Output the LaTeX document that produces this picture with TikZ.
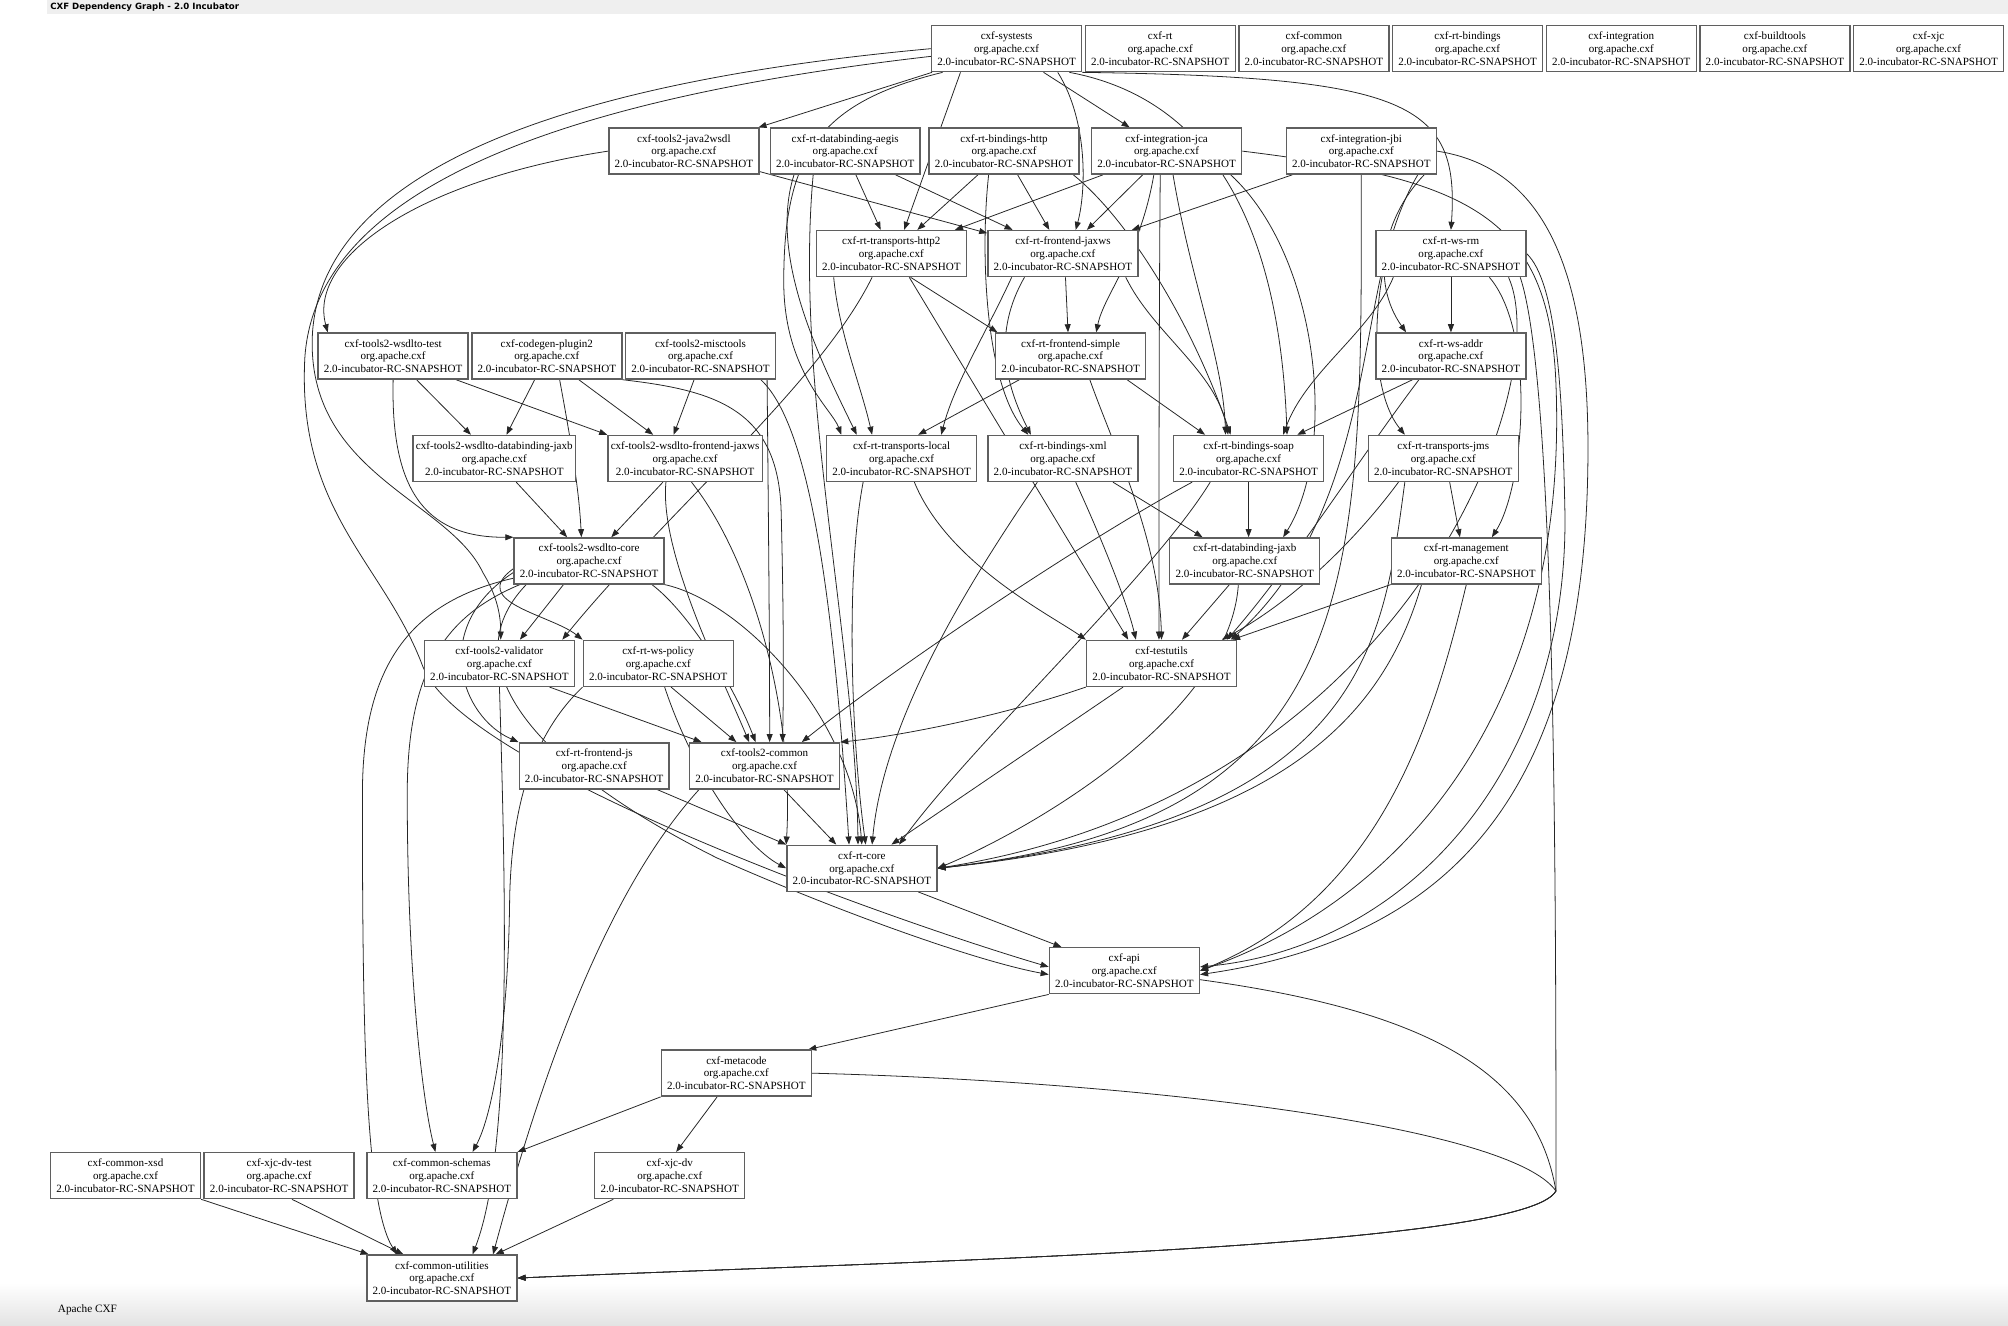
\documentclass[tikz,border=0pt]{standalone}
\usepackage{fontspec}
\setmainfont{Liberation Serif}
\newfontfamily\headfont{DejaVu Sans}
\usetikzlibrary{arrows.meta,calc,backgrounds}
\definecolor{headgray}{HTML}{EFEFEF}
\definecolor{boxgray}{HTML}{5F5F5F}
\newcommand{\cxfpkg}[1]{#1\\org.apache.cxf\\2.0-incubator-RC-SNAPSHOT}

\begin{document}
\begin{tikzpicture}[x=0.025612cm,y=-0.025612cm,>={Triangle[length=4.6pt,width=3.4pt]},
  pkg/.style={draw=boxgray,line width=0.8pt,fill=white,minimum width=3cm,
    minimum height=0.92cm,inner sep=1.6pt,align=center,
    font=\fontsize{6.3}{7.3}\selectfont},
  dep/.style={->,line width=0.45pt,black!85}]
\useasboundingbox (0,0) rectangle (1568,1035);
% header and footer
\fill[headgray] (37,0) rectangle (1568,11);
\node[anchor=west,inner sep=0,font=\headfont\bfseries\fontsize{4.9}{5.5}\selectfont] (title) at (39,5.5)
  {CXF Dependency Graph - 2.0 Incubator};
\shade[top color=white,bottom color=black!11] (0,1002) rectangle (1568,1035);
\node[anchor=west,inner sep=0,font=\fontsize{6.4}{7.4}\selectfont] (footer) at (45,1023) {Apache CXF};
% row 0
\node[pkg] (systests) at (786,38) {\cxfpkg{cxf-systests}};
\node[pkg] (rt) at (906,38) {\cxfpkg{cxf-rt}};
\node[pkg] (common) at (1026,38) {\cxfpkg{cxf-common}};
\node[pkg] (rtbind) at (1146,38) {\cxfpkg{cxf-rt-bindings}};
\node[pkg] (integ) at (1266,38) {\cxfpkg{cxf-integration}};
\node[pkg] (buildtools) at (1386,38) {\cxfpkg{cxf-buildtools}};
\node[pkg] (xjc) at (1506,38) {\cxfpkg{cxf-xjc}};
% row 1
\node[pkg] (java2wsdl) at (534,118) {\cxfpkg{cxf-tools2-java2wsdl}};
\node[pkg] (aegis) at (660,118) {\cxfpkg{cxf-rt-databinding-aegis}};
\node[pkg] (bhttp) at (784,118) {\cxfpkg{cxf-rt-bindings-http}};
\node[pkg] (jca) at (911,118) {\cxfpkg{cxf-integration-jca}};
\node[pkg] (jbi) at (1063,118) {\cxfpkg{cxf-integration-jbi}};
% row 2
\node[pkg] (http2) at (696,198) {\cxfpkg{cxf-rt-transports-http2}};
\node[pkg] (fjaxws) at (830,198) {\cxfpkg{cxf-rt-frontend-jaxws}};
\node[pkg] (wsrm) at (1133,198) {\cxfpkg{cxf-rt-ws-rm}};
% row 3
\node[pkg] (wtest) at (307,278) {\cxfpkg{cxf-tools2-wsdlto-test}};
\node[pkg] (codegen) at (427,278) {\cxfpkg{cxf-codegen-plugin2}};
\node[pkg] (misc) at (547,278) {\cxfpkg{cxf-tools2-misctools}};
\node[pkg] (fsimple) at (836,278) {\cxfpkg{cxf-rt-frontend-simple}};
\node[pkg] (wsaddr) at (1133,278) {\cxfpkg{cxf-rt-ws-addr}};
% row 4
\node[pkg] (tdbjaxb) at (386,358) {\cxfpkg{cxf-tools2-wsdlto-databinding-jaxb}};
\node[pkg] (tfejaxws) at (535,358) {\cxfpkg{cxf-tools2-wsdlto-frontend-jaxws}};
\node[pkg] (tlocal) at (704,358) {\cxfpkg{cxf-rt-transports-local}};
\node[pkg] (bxml) at (830,358) {\cxfpkg{cxf-rt-bindings-xml}};
\node[pkg] (bsoap) at (975,358) {\cxfpkg{cxf-rt-bindings-soap}};
\node[pkg] (tjms) at (1127,358) {\cxfpkg{cxf-rt-transports-jms}};
% row 5
\node[pkg] (tcore) at (460,438) {\cxfpkg{cxf-tools2-wsdlto-core}};
\node[pkg] (dbjaxb) at (972,438) {\cxfpkg{cxf-rt-databinding-jaxb}};
\node[pkg] (mgmt) at (1145,438) {\cxfpkg{cxf-rt-management}};
% row 6
\node[pkg] (validator) at (390,518) {\cxfpkg{cxf-tools2-validator}};
\node[pkg] (wspolicy) at (514,518) {\cxfpkg{cxf-rt-ws-policy}};
\node[pkg] (testutils) at (907,518) {\cxfpkg{cxf-testutils}};
% row 7
\node[pkg] (fjs) at (464,598) {\cxfpkg{cxf-rt-frontend-js}};
\node[pkg] (tcommon) at (597,598) {\cxfpkg{cxf-tools2-common}};
% rows 8-12
\node[pkg] (rtcore) at (673,678) {\cxfpkg{cxf-rt-core}};
\node[pkg] (api) at (878,758) {\cxfpkg{cxf-api}};
\node[pkg] (metacode) at (575,838) {\cxfpkg{cxf-metacode}};
\node[pkg] (cxsd) at (98,918) {\cxfpkg{cxf-common-xsd}};
\node[pkg] (dvtest) at (218,918) {\cxfpkg{cxf-xjc-dv-test}};
\node[pkg] (schemas) at (345,918) {\cxfpkg{cxf-common-schemas}};
\node[pkg] (xjcdv) at (523,918) {\cxfpkg{cxf-xjc-dv}};
\node[pkg] (utils) at (345,998) {\cxfpkg{cxf-common-utilities}};
\coordinate (knot) at (377,447);
\coordinate (bend) at (1215,930);

\begin{scope}[on background layer]
% systests
\draw[dep] (systests) -- (java2wsdl);
\draw[dep] (systests) -- (jca);
\draw[dep] ($(systests.south)+(-36,0)$) -- ($(http2.north)+(10,0)$);
\draw[dep] ($(systests.south)+(40,0)$) .. controls (850,95) and (848,150) .. ($(fjaxws.north)+(10,0)$);
\draw[dep] (systests.south east) .. controls (1100,60) and (1140,80) .. (wsrm.north);
\draw[dep] ($(systests.south east)+(-10,0)$) .. controls (960,80) and (1000,200) .. ($(bsoap.north)+(30,0)$);
\draw[dep] ($(systests.south)+(-50,0)$) .. controls (640,80) and (612,120) .. (612,220)
  .. controls (612,290) and (650,320) .. ($(tlocal.north west)+(12,0)$);
\draw[dep] (systests.west) .. controls (420,66) and (252,140) .. (244,260) .. controls (238,370) and (350,390) .. (knot)
  .. controls (388,465) and (391,480) .. ($(validator.north)+(1,0)$);
\draw[dep] ($(systests.west)+(0,6)$) .. controls (430,78) and (246,150) .. (238,280) .. controls (232,400) and (300,440) .. (330,520)
  .. controls (360,600) and (700,720) .. ($(api.west)+(0,-3)$);
% row 1
\draw[dep] (java2wsdl.west) .. controls (330,140) and (240,200) .. ($(wtest.north west)+(8,0)$);
\draw[dep] (java2wsdl) -- (fjaxws);
\draw[dep] (aegis) -- (http2);
\draw[dep] (aegis) -- (fjaxws);
\draw[dep] ($(aegis.south)+(-40,0)$) .. controls (600,200) and (640,280) .. ($(tlocal.north)+(-35,0)$);
\draw[dep] ($(aegis.south)+(-25,0)$) .. controls (620,300) and (668,500) .. ($(rtcore.north)+(-3,0)$);
\draw[dep] (bhttp) -- (http2);
\draw[dep] (bhttp) -- (fjaxws);
\draw[dep] ($(bhttp.south)+(-12,0)$) .. controls (765,200) and (770,300) .. ($(bxml.north)+(-27,0)$);
\draw[dep] ($(bhttp.south east)+(-5,0)$) .. controls (880,170) and (930,250) .. ($(bsoap.north)+(-14,0)$);
\draw[dep] (jca) -- (http2);
\draw[dep] (jca) -- (fjaxws);
\draw[dep] ($(jca.south)+(-10,0)$) .. controls (890,200) and (862,230) .. ($(fsimple.north)+(20,0)$);
\draw[dep] ($(jca.south)+(5,0)$) .. controls (930,220) and (955,280) .. ($(bsoap.north)+(-18,0)$);
\draw[dep] ($(jca.south)+(50,0)$) .. controls (1030,200) and (1045,350) .. ($(dbjaxb.north)+(30,0)$);
\draw[dep] ($(jca.south)+(-5,0)$) .. controls (905,250) and (905,400) .. ($(testutils.north)+(-2,0)$);
\draw[dep] (jca.east) .. controls (1150,140) and (1210,170) .. (1215,300) .. controls (1225,550) and (1100,700) .. (api.east);
\draw[dep] (jbi) -- (fjaxws);
\draw[dep] ($(jbi.south east)+(-10,0)$) .. controls (1080,170) and (1070,220) .. ($(wsaddr.north)+(-35,0)$);
\draw[dep] ($(jbi.south east)+(-15,0)$) .. controls (1070,200) and (1065,300) .. ($(tjms.north)+(-30,0)$);
\draw[dep] (jbi.south) .. controls (1063,450) and (1070,640) .. (rtcore.east);
\draw[dep] (jbi.east) .. controls (1200,130) and (1240,200) .. (1240,350) .. controls (1240,600) and (1150,730) .. ($(api.east)+(0,3)$);
% row 2
\draw[dep] ($(http2.south)+(15,0)$) -- ($(fsimple.north west)+(2,0)$);
\draw[dep] ($(http2.south)+(-45,0)$) .. controls (655,260) and (672,300) .. ($(tlocal.north)+(-23,0)$);
\draw[dep] ($(http2.south)+(14,0)$) -- ($(testutils.north)+(-26,0)$);
\draw[dep] ($(http2.south)+(-15,0)$) .. controls (640,300) and (520,400) .. ($(validator.north east)+(-10,0)$);
\draw[dep] ($(fjaxws.south)+(2,0)$) -- ($(fsimple.north)+(-2,0)$);
\draw[dep] ($(fjaxws.south)+(-40,0)$) .. controls (770,260) and (745,300) .. ($(tlocal.north)+(31,0)$);
\draw[dep] ($(fjaxws.south)+(-30,0)$) .. controls (775,260) and (785,300) .. ($(bxml.north)+(-25,0)$);
\draw[dep] ($(fjaxws.south east)+(-10,0)$) .. controls (900,260) and (950,290) .. ($(bsoap.north)+(-16,0)$);
\draw[dep] (wsrm) -- (wsaddr);
\draw[dep] ($(wsrm.south)+(-45,0)$) .. controls (1070,260) and (1020,290) .. ($(bsoap.north)+(27,0)$);
\draw[dep] ($(wsrm.south)+(30,0)$) .. controls (1200,260) and (1190,380) .. ($(mgmt.north)+(20,0)$);
\draw[dep] ($(wsrm.south)+(-55,0)$) .. controls (1060,300) and (1050,420) .. ($(testutils.north east)+(-5,0)$);
\draw[dep] (wsrm.east) .. controls (1215,220) and (1220,300) .. (1222,400) .. controls (1225,600) and (1100,740) .. ($(api.east)+(0,-3)$);
\draw[dep] ($(wsrm.south)+(45,0)$) .. controls (1215,300) and (1100,620) .. (rtcore.east);
\draw[dep] ($(wsrm.south east)+(-5,0)$) .. controls (1215,300) and (1215,700) .. (bend) .. controls (1190,975) and (700,985) .. (utils.east);
% row 3
\draw[dep] (wtest) -- (tdbjaxb);
\draw[dep] ($(wtest.south east)+(-10,0)$) -- (tfejaxws.north west);
\draw[dep] (wtest.south) .. controls (305,380) and (330,420) .. (tcore.north west);
\draw[dep] (codegen) -- (tdbjaxb);
\draw[dep] (codegen) -- (tfejaxws);
\draw[dep] ($(codegen.south)+(10,0)$) .. controls (445,340) and (452,380) .. ($(tcore.north)+(-6,0)$);
\draw[dep] (codegen.south east) .. controls (560,305) and (608,320) .. (610,400) .. controls (612,480) and (612,540) .. ($(tcommon.north)+(14,0)$);
\draw[dep] ($(misc.south)+(-5,0)$) -- ($(tfejaxws.north)+(-9,0)$);
\draw[dep] ($(misc.south)+(52,0)$) .. controls (600,400) and (601,500) .. ($(tcommon.north)+(4,0)$);
\draw[dep] ($(misc.south east)+(-12,0)$) .. controls (630,330) and (650,450) .. ($(rtcore.north)+(-10,0)$);
\draw[dep] ($(fsimple.south)+(-40,0)$) -- ($(tlocal.north)+(13,0)$);
\draw[dep] ($(fsimple.south east)+(-15,0)$) -- ($(bsoap.north)+(-34,0)$);
\draw[dep] ($(fsimple.south)+(15,0)$) .. controls (870,350) and (905,420) .. (testutils.north);
\draw[dep] ($(wsaddr.south)+(-30,0)$) -- ($(bsoap.north)+(38,0)$);
\draw[dep] ($(wsaddr.south)+(-25,0)$) .. controls (1060,360) and (1010,440) .. ($(testutils.north east)+(-8,0)$);
% row 4
\draw[dep] (tdbjaxb) -- (tcore);
\draw[dep] (tfejaxws) -- (tcore);
\draw[dep] ($(tfejaxws.south)+(-15,0)$) .. controls (515,430) and (560,520) .. ($(tcommon.north)+(-12,0)$);
\draw[dep] ($(tfejaxws.south)+(5,0)$) .. controls (590,440) and (620,560) .. (rtcore.north west);
\draw[dep] ($(tlocal.south)+(10,0)$) .. controls (740,440) and (820,480) .. (testutils.north west);
\draw[dep] ($(tlocal.south)+(-30,0)$) .. controls (660,450) and (665,580) .. ($(rtcore.north)+(3,0)$);
\draw[dep] ($(bxml.south east)+(-20,0)$) -- ($(dbjaxb.north)+(-33,0)$);
\draw[dep] ($(bxml.south)+(-20,0)$) .. controls (760,450) and (690,560) .. ($(rtcore.north)+(8,0)$);
\draw[dep] ($(bxml.south)+(10,0)$) .. controls (860,420) and (880,470) .. ($(testutils.north)+(-20,0)$);
\draw[dep] (bsoap.south) -- ($(dbjaxb.north)+(3,0)$);
\draw[dep] ($(bsoap.south west)+(15,0)$) .. controls (850,420) and (700,520) .. ($(tcommon.north east)+(-30,0)$);
\draw[dep] ($(bsoap.south)+(-30,0)$) .. controls (900,450) and (760,580) .. ($(rtcore.north east)+(-30,0)$);
\draw[dep] ($(tjms.south)+(5,0)$) -- ($(mgmt.north)+(-5,0)$);
\draw[dep] ($(tjms.south)+(-35,0)$) .. controls (1060,420) and (1010,470) .. ($(testutils.north east)+(-12,0)$);
\draw[dep] ($(tjms.south)+(-30,0)$) .. controls (1080,500) and (1070,640) .. (rtcore.east);
% row 5
\draw[dep] ($(tcore.south)+(-20,0)$) -- ($(validator.north)+(16,0)$);
\draw[dep] ($(tcore.south east)+(-10,0)$) .. controls (540,480) and (575,540) .. ($(tcommon.north)+(-7,0)$);
\draw[dep] (tcore.south east) .. controls (580,470) and (665,560) .. (rtcore.north);
\draw[dep] ($(tcore.west)+(0,6)$) .. controls (365,470) and (430,480) .. (wspolicy.north west);
\draw[dep] ($(tcore.west)+(0,9)$) .. controls (335,490) and (360,560) .. (fjs.north west);
\draw[dep] ($(tcore.south west)+(5,0)$) .. controls (350,480) and (318,520) .. (318,620) .. controls (318,760) and (330,860) .. ($(schemas.north)+(-5,0)$);
\draw[dep] ($(tcore.south west)+(0,-5)$) .. controls (320,470) and (283,520) .. (283,620) .. controls (283,800) and (285,940) .. ($(utils.north)+(-35,0)$);
\draw[dep] ($(tcore.south west)+(10,0)$) .. controls (350,520) and (420,600) .. (560,670) .. controls (650,710) and (760,750) .. ($(api.west)+(0,3)$);
\draw[dep] ($(dbjaxb.south)+(-12,0)$) -- ($(testutils.north)+(16,0)$);
\draw[dep] ($(dbjaxb.south)+(-5,0)$) .. controls (960,560) and (800,650) .. (rtcore.east);
\draw[dep] (mgmt.south west) -- ($(testutils.north east)+(-4,0)$);
\draw[dep] ($(mgmt.south)+(-35,0)$) .. controls (1080,560) and (1000,650) .. (rtcore.east);
\draw[dep] (mgmt.south) .. controls (1120,560) and (1080,700) .. (api.east);
% row 6
\draw[dep] ($(validator.south east)+(-20,0)$) -- ($(tcommon.north west)+(10,0)$);
\draw[dep] (validator.south) .. controls (395,700) and (400,900) .. ($(utils.north)+(24,0)$);
\draw[dep] ($(wspolicy.south)+(10,0)$) -- ($(tcommon.north)+(-22,0)$);
\draw[dep] ($(wspolicy.south)+(5,0)$) .. controls (540,600) and (580,660) .. (rtcore.west);
\draw[dep] (wspolicy.south west) .. controls (420,570) and (400,620) .. (398,700) .. controls (397,800) and (385,870) .. ($(schemas.north)+(24,0)$);
\draw[dep] (testutils.south west) .. controls (780,560) and (700,575) .. (tcommon.north east);
\draw[dep] ($(testutils.south)+(-30,0)$) -- ($(rtcore.north east)+(-36,0)$);
% rows 7-11
\draw[dep] ($(fjs.south east)+(-10,0)$) -- (rtcore.north west);
\draw[dep] ($(tcommon.south)+(15,0)$) -- ($(rtcore.north)+(-20,0)$);
\draw[dep] ($(tcommon.south west)+(8,0)$) .. controls (470,700) and (420,850) .. ($(utils.north)+(40,0)$);
\draw[dep] ($(rtcore.south east)+(-15,0)$) -- ($(api.north west)+(10,0)$);
\draw[dep] (api.south west) -- ($(metacode.north east)+(-3,0)$);
\draw[dep] ($(api.east)+(0,7)$) .. controls (1120,790) and (1200,840) .. (bend) .. controls (1190,975) and (700,985) .. (utils.east);
\draw[dep] (metacode.south west) -- (schemas.north east);
\draw[dep] ($(metacode.south)+(-15,0)$) -- ($(xjcdv.north)+(5,0)$);
\draw[dep] (metacode.east) .. controls (900,845) and (1180,880) .. (bend) .. controls (1190,975) and (700,985) .. (utils.east);
\draw[dep] (cxsd.south east) -- ($(utils.north west)+(2,0)$);
\draw[dep] ($(dvtest.south)+(10,0)$) -- ($(utils.north)+(-30,0)$);
\draw[dep] ($(xjcdv.south west)+(15,0)$) -- ($(utils.north)+(42,0)$);
\end{scope}
\end{tikzpicture}
\end{document}
